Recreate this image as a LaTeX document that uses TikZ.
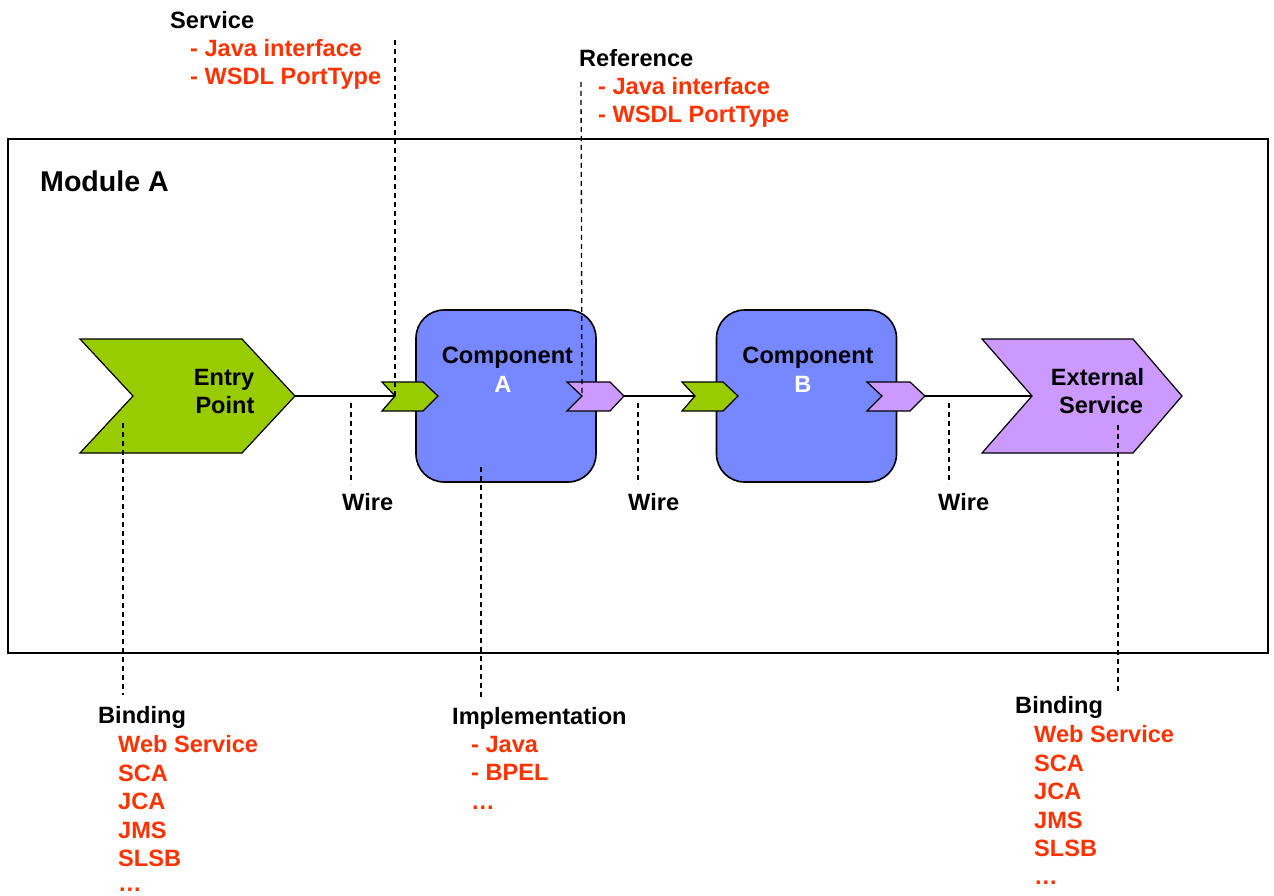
\documentclass[tikz,border=0pt]{standalone}
\usepackage{fontspec}
\setmainfont{Liberation Sans}
\definecolor{epgreen}{HTML}{99CC00}
\definecolor{svpurple}{HTML}{CC99FF}
\definecolor{compblue}{HTML}{7788FF}
\definecolor{txtred}{HTML}{FF3300}
\begin{document}
\begin{tikzpicture}[x=1pt,y=-1pt,
  txt/.style={font=\fontsize{23.6}{28}\selectfont\bfseries, inner sep=0pt},
  blk/.style={txt, anchor=base west, text=black},
  red/.style={txt, anchor=base west, text=txtred},
  ctr/.style={txt, anchor=base},
  comp/.style={draw=black, line width=1.6pt, fill=compblue, rounded corners=28pt, minimum width=180pt, minimum height=172pt, inner sep=0pt},
  chev/.style={draw=black, line width=1.2pt, line join=miter},
  wire/.style={draw=black, line width=1.3pt},
  dashline/.style={draw=black, line width=1.3pt, dash pattern=on 5pt off 4pt}
]
\useasboundingbox (0,0) rectangle (1274,896);
\fill[white] (0,0) rectangle (1274,896);

% module
\draw[line width=1.8pt] (8,139) rectangle (1268,653);
\node[txt, font=\fontsize{28.6}{32}\selectfont\bfseries, anchor=base west] (modA) at (40,192) {Module A};

% components
\node[comp] (compA) at (506,396) {};
\node[comp] (compB) at (806.5,396) {};
\node[ctr] (compAt) at (507.5,363) {Component};
\node[ctr, text=white] (compAl) at (503,392) {A};
\node[ctr] (compBt) at (808,363) {Component};
\node[ctr, text=white] (compBl) at (803,392) {B};

% entry point chevron
\draw[chev, fill=epgreen] (80,339) -- (242,339) -- (295,396) coordinate (epTip) -- (242,453) -- (80,453) -- (133,396) coordinate (epNotch) -- cycle;
\node[ctr] (ep1) at (224,385) {Entry};
\node[ctr] (ep2) at (225,413) {Point};

% external service chevron
\draw[chev, fill=svpurple] (982,339) -- (1133,339) -- (1182,396) coordinate (esTip) -- (1133,453) -- (982,453) -- (1032,396) coordinate (esNotch) -- cycle;
\node[ctr] (es1) at (1097.5,385) {External};
\node[ctr] (es2) at (1101,413) {Service};

% small chevrons
\draw[chev, fill=epgreen] (382,382) -- (423,382) -- (438,396) -- (423,411) -- (382,411) -- (395,396) coordinate (aIn) -- cycle;
\draw[chev, fill=svpurple] (567,382) -- (610,382) -- (624,396) coordinate (aOutTip) -- (610,411) -- (567,411) -- (582,396) coordinate (aOut) -- cycle;
\draw[chev, fill=epgreen] (682,382) -- (723,382) -- (738,396) -- (723,411) -- (682,411) -- (695,396) coordinate (bIn) -- cycle;
\draw[chev, fill=svpurple] (867,382) -- (910,382) -- (925,396) coordinate (bOutTip) -- (910,411) -- (867,411) -- (882,396) coordinate (bOut) -- cycle;

% wires
\draw[wire] (epTip) -- (aIn);
\draw[wire] (aOutTip) -- (bIn);
\draw[wire] (bOutTip) -- (esNotch);

% wire labels
\node[blk] (w1) at (342,510) {Wire};
\node[blk] (w2) at (628,510) {Wire};
\node[blk] (w3) at (938,510) {Wire};
\coordinate (w1a) at (351,403); \coordinate (w1b) at (351,484);
\coordinate (w2a) at (638,403); \coordinate (w2b) at (638,484);
\coordinate (w3a) at (949,403); \coordinate (w3b) at (949,484);
\draw[dashline] (w1a) -- (w1b);
\draw[dashline] (w2a) -- (w2b);
\draw[dashline] (w3a) -- (w3b);

% service annotation
\node[blk] (svc) at (170,29) {Service};
\node[red] (svc1) at (190,57) {- Java interface};
\node[red] (svc2) at (190,85) {- WSDL PortType};
\coordinate (svcTop) at (395,40);
\draw[dashline] (svcTop) -- (aIn);

% reference annotation
\node[blk] (ref) at (579,67) {Reference};
\node[red] (ref1) at (598,95) {- Java interface};
\node[red] (ref2) at (598,123) {- WSDL PortType};
\coordinate (refTop) at (581,82);
\draw[dashline] (refTop) -- (aOut);

% binding left
\coordinate (bl1) at (123,423); \coordinate (bl2) at (123,695);
\draw[dashline] (bl1) -- (bl2);
\node[blk] (bindL) at (98,723) {Binding};
\node[red] (bl_a) at (118,752) {Web Service};
\node[red] (bl_b) at (118,781) {SCA};
\node[red] (bl_c) at (118,809) {JCA};
\node[red] (bl_d) at (118,838) {JMS};
\node[red] (bl_e) at (118,866) {SLSB};
\node[red] (bl_f) at (118,891) {\dots};

% implementation
\coordinate (im1) at (481,467); \coordinate (im2) at (481,700);
\draw[dashline] (im1) -- (im2);
\node[blk] (impl) at (452,724) {Implementation};
\node[red] (im_a) at (471,752) {- Java};
\node[red] (im_b) at (471,780) {- BPEL};
\node[red] (im_c) at (471,809) {\dots};

% binding right
\coordinate (br1) at (1118,425); \coordinate (br2) at (1118,693);
\draw[dashline] (br1) -- (br2);
\node[blk] (bindR) at (1015,713) {Binding};
\node[red] (br_a) at (1034,742) {Web Service};
\node[red] (br_b) at (1034,771) {SCA};
\node[red] (br_c) at (1034,799) {JCA};
\node[red] (br_d) at (1034,828) {JMS};
\node[red] (br_e) at (1034,856) {SLSB};
\node[red] (br_f) at (1034,884) {\dots};
\end{tikzpicture}
\end{document}
